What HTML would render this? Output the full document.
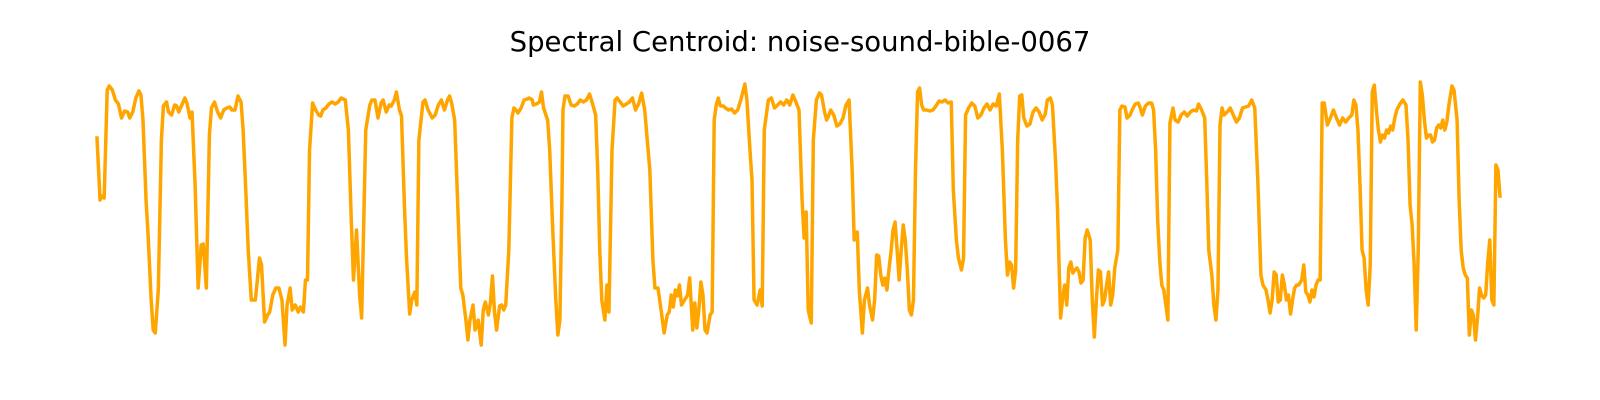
<!DOCTYPE html>
<html><head><meta charset="utf-8"><style>
html,body{margin:0;padding:0;background:#fff;}
svg{display:block;}
</style></head><body>
<svg id="chart" width="1600" height="400" xmlns="http://www.w3.org/2000/svg">
<text x="800" y="51" text-anchor="middle" font-family="DejaVu Sans, Liberation Sans, sans-serif" font-size="27.5" fill="#000">Spectral Centroid: noise-sound-bible-0067</text>
<g id="plot"></g>
</svg>
<script>
const frames = [97,100,102,104,107,109,112,115,118,121,124,127,129,132,135,138,140,142,145,147,150,152,154,157,160,162,165,167,170,173,175,177,180,183,185,188,190,193,196,199,201,204,207,209,212,215,218,221,224,227,229,232,235,238,240,243,245,248,252,256,258,261,264,266,269,272,275,278,281,283,286,288,291,294,296,299,301,303,305,308,311,314,316,318,321,324,327,330,333,336,340,343,346,348,351,354,356,360,364,366,369,372,375,377,380,383,385,388,390,393,395,398,400,403,405,408,410,412,416,418,421,425,428,431,434,437,440,442,444,447,453,455,458,460,462,465,467,470,473,475,477,480,482,484,486,488,491,493,495,497,500,503,505,507,509,512,515,518,520,523,524,527,530,532,534,538,540,543,546,548,550,552,553,555,558,561,564,567,570,573,576,579,582,585,587,589,591,594,596,598,601,604,606,609,612,615,618,621,624,627,630,633,638,641,643,646,649,652,655,657,659,661,663,665,667,669,672,675,677,680,682,684,686,688,690,692,694,697,699,701,703,705,707,710,712,715,718,721,724,727,731,733,736,738,740,743,746,748,750,752,754,757,760,763,766,769,772,775,778,781,784,787,789,791,793,796,798,801,804,806,809,811,813,815,818,821,824,827,830,833,836,838,841,843,846,848,851,853,856,858,860,862,864,866,868,870,872,874,876,878,880,882,884,886,888,890,892,894,896,898,900,902,904,906,909,912,915,918,921,924,927,930,933,935,938,940,943,945,947,950,953,956,959,962,965,968,971,974,977,980,983,986,988,990,992,994,996,998,1000,1002,1004,1007,1010,1013,1016,1019,1022,1025,1027,1030,1032,1035,1037,1040,1042,1044,1046,1048,1050,1052,1054,1056,1058,1060,1062,1064,1066,1069,1071,1073,1075,1077,1079,1081,1083,1085,1087,1089,1091,1093,1096,1098,1100,1103,1105,1108,1110,1113,1116,1118,1120,1123,1126,1129,1131,1133,1135,1137,1139,1141,1143,1145,1147,1150,1152,1155,1158,1161,1164,1167,1170,1173,1175,1178,1181,1183,1185,1188,1190,1192,1194,1196,1198,1200,1203,1206,1209,1212,1215,1218,1221,1224,1227,1230,1233,1236,1238,1241,1243,1245,1247,1249,1251,1253,1255,1257,1259,1261,1263,1265,1267,1269,1271,1273,1276,1278,1280,1282,1284,1286,1288,1290,1292,1294,1296,1298,1301,1304,1307,1310,1313,1316,1319,1322,1325,1327,1329,1331,1333,1335,1337,1339,1341,1343,1345,1347,1349,1351,1353,1355,1357,1359,1361,1363,1365,1367,1369,1372,1375,1378,1380,1382,1384,1386,1388,1390,1392,1394,1396,1398,1400,1402,1404,1406,1408,1410,1412,1414,1416,1418,1420,1423,1425,1428,1430,1432,1434,1436,1438,1440,1442,1444,1446,1448,1450,1452,1454,1456,1458,1460,1462,1464,1466,1468,1470];
const centroid = [262,200,204,202,310,314,310,300,296,282,289,288,282,288,302,309,305,280,200,165,100,70,67,110,260,294,298,288,285,295,294,288,295,302,297,282,288,215,112,155,156,112,265,292,298,288,282,290,292,293,290,290,304,298,270,200,150,100,100,142,135,78,85,88,105,112,112,100,55,95,112,90,95,88,93,88,120,120,250,297,290,285,284,290,292,296,298,296,298,302,300,270,175,120,170,105,82,270,295,300,300,282,297,300,288,295,294,300,308,290,284,190,140,86,100,108,95,260,298,300,290,282,285,295,300,290,300,304,297,280,112,105,80,60,80,95,70,80,55,90,98,85,97,124,88,70,94,95,90,95,150,282,292,290,287,292,300,301,302,300,295,296,298,308,292,280,250,170,100,65,80,200,290,304,304,295,294,296,300,298,300,306,296,285,230,150,100,80,115,88,250,300,302,298,294,296,298,302,290,296,307,290,230,140,112,112,90,67,85,88,105,93,110,104,115,95,100,105,122,70,97,72,90,118,105,70,67,85,88,280,295,302,294,294,292,290,291,287,290,300,316,300,250,220,100,95,110,94,270,285,300,302,292,295,298,295,300,295,305,298,290,200,162,188,90,77,260,300,307,305,288,280,284,290,285,274,276,282,295,300,230,160,168,110,67,100,112,95,80,100,145,144,125,115,122,110,130,148,170,178,150,120,150,175,160,130,90,85,100,230,308,312,295,290,290,289,290,294,299,298,300,297,298,210,160,142,130,142,285,292,297,294,282,285,292,296,290,296,294,306,250,160,125,138,135,112,130,260,304,305,282,274,276,288,292,288,280,286,300,302,295,240,190,82,102,115,95,132,138,127,130,132,128,117,120,162,170,160,100,63,100,130,128,95,100,115,128,95,105,132,150,290,294,293,282,285,290,296,297,292,285,294,297,297,290,250,180,140,115,110,95,80,277,292,280,278,285,288,284,288,290,289,296,290,282,220,150,125,95,80,110,275,292,285,288,292,285,278,282,292,293,294,300,292,220,125,115,110,100,87,100,128,125,98,100,125,115,100,105,86,100,112,115,115,120,135,108,105,98,110,103,115,120,120,297,297,275,282,290,282,275,282,278,282,285,300,295,270,215,150,142,110,95,135,308,315,290,270,258,265,262,270,267,274,270,282,290,296,300,295,260,195,175,135,70,150,318,305,280,262,265,265,258,260,272,275,272,280,270,278,295,314,310,280,200,150,132,125,122,65,90,85,60,82,112,105,102,105,138,160,100,95,235,230,204];
const frameDomain = [97, 1470];
const valueDomain = [50, 320];
function xScale(f){ return 97 + (f - frameDomain[0]) / (frameDomain[1] - frameDomain[0]) * (1500 - 97); }
function yScale(v){ return 350 - (v - valueDomain[0]) / (valueDomain[1] - valueDomain[0]) * (350 - 80); }
const n = Math.min(frames.length, centroid.length);
let d = '';
for (let i = 0; i < n; i++) {
  d += (i ? 'L' : 'M') + xScale(frames[i]).toFixed(2) + ',' + yScale(centroid[i]).toFixed(2);
}
const path = document.createElementNS('http://www.w3.org/2000/svg', 'path');
path.setAttribute('d', d);
path.setAttribute('fill', 'none');
path.setAttribute('stroke', '#ffa500');
path.setAttribute('stroke-width', '3.5');
path.setAttribute('stroke-linejoin', 'round');
path.setAttribute('stroke-linecap', 'square');


document.getElementById('plot').appendChild(path);
</script>
</body></html>
